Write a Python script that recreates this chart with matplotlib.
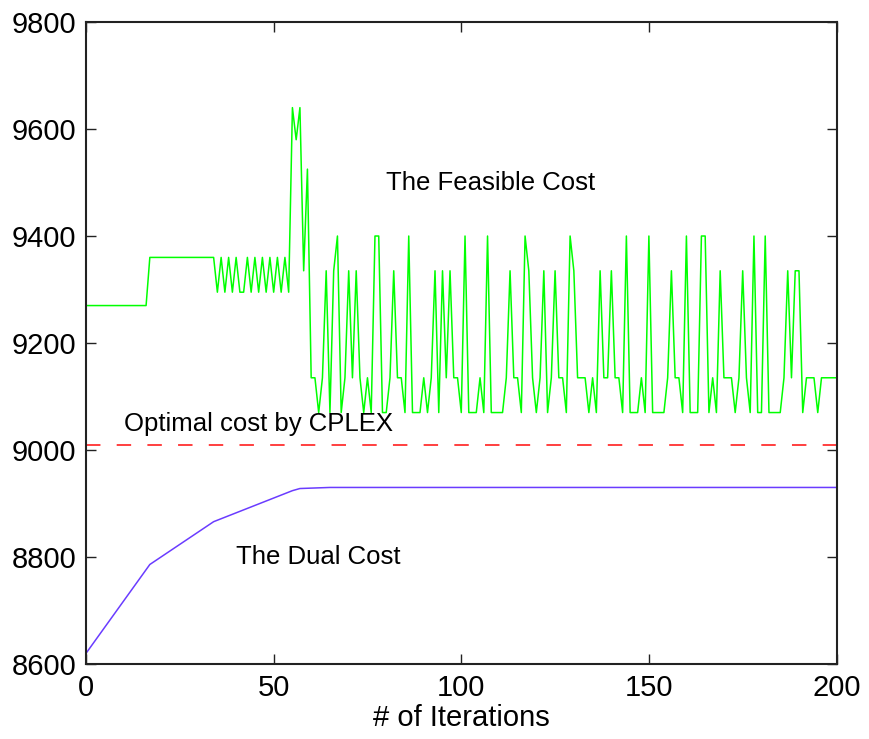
import matplotlib
matplotlib.use('Agg')
from matplotlib import pyplot as plt

plt.rcParams['font.family'] = ['Liberation Sans', 'DejaVu Sans']

# feasible cost per iteration (0..200)
feasible_cost = [
    9270, 9270, 9270, 9270, 9270, 9270, 9270, 9270, 9270, 9270,
    9270, 9270, 9270, 9270, 9270, 9270, 9270, 9360, 9360, 9360,
    9360, 9360, 9360, 9360, 9360, 9360, 9360, 9360, 9360, 9360,
    9360, 9360, 9360, 9360, 9360, 9295, 9360, 9295, 9360, 9295,
    9360, 9295, 9295, 9360, 9295, 9360, 9295, 9360, 9295, 9360,
    9295, 9360, 9295, 9360, 9295, 9640, 9580, 9640, 9335, 9525,
    9135, 9135, 9070, 9135, 9335, 9070, 9335, 9400, 9070, 9135,
    9335, 9135, 9335, 9135, 9070, 9135, 9070, 9400, 9400, 9070,
    9070, 9135, 9335, 9135, 9135, 9070, 9400, 9070, 9070, 9070,
    9135, 9070, 9135, 9335, 9070, 9335, 9135, 9335, 9135, 9135,
    9070, 9400, 9070, 9070, 9070, 9135, 9070, 9400, 9070, 9070,
    9070, 9070, 9135, 9335, 9135, 9135, 9070, 9400, 9335, 9135,
    9070, 9135, 9335, 9070, 9135, 9335, 9135, 9135, 9070, 9400,
    9335, 9135, 9135, 9135, 9070, 9135, 9070, 9335, 9135, 9135,
    9335, 9135, 9135, 9070, 9400, 9070, 9070, 9070, 9135, 9070,
    9400, 9070, 9070, 9070, 9070, 9135, 9335, 9135, 9135, 9070,
    9400, 9070, 9070, 9070, 9400, 9400, 9070, 9135, 9070, 9335,
    9135, 9135, 9135, 9070, 9135, 9335, 9135, 9070, 9400, 9070,
    9070, 9400, 9070, 9070, 9070, 9070, 9135, 9335, 9135, 9335,
    9335, 9070, 9135, 9135, 9135, 9070, 9135, 9135, 9135, 9135,
    9135,
]
iterations = list(range(len(feasible_cost)))

dual_iters = [0, 17, 34, 55, 57, 65, 200]
dual_cost = [8620, 8786, 8866, 8924, 8928, 8930, 8930]

cplex_opt = 9010

fig = plt.figure(figsize=(8.7, 7.39), dpi=100)
ax = fig.add_axes([0.0989, 0.1015, 0.8626, 0.8687])

ax.plot(iterations, feasible_cost, color='#00ff00', linewidth=1.1)
ax.plot(dual_iters, dual_cost, color='#6a3cff', linewidth=1.1)
ax.axhline(cplex_opt, color='#ff3030', linewidth=1.3, linestyle=(0, (8, 9)))

ax.text(80, 9500, 'The Feasible Cost', fontsize=18.5, va='center')
ax.text(10, 9048, 'Optimal cost by CPLEX', fontsize=18.5, va='center')
ax.text(40, 8800, 'The Dual Cost', fontsize=18.5, va='center')

ax.set_xlim(0, 200)
ax.set_ylim(8600, 9800)
ax.set_xticks([0, 50, 100, 150, 200])
ax.set_yticks([8600, 8800, 9000, 9200, 9400, 9600, 9800])
ax.tick_params(direction='in', length=7, width=1, top=True, right=True,
               labelsize=21, pad=7, colors='#222222', labelcolor='black')
for s in ax.spines.values():
    s.set_linewidth(1.5)
    s.set_color('#222222')
ax.set_xlabel('# of Iterations', fontsize=21, labelpad=2)

plt.savefig('out.png', dpi=100)
plt.close()
